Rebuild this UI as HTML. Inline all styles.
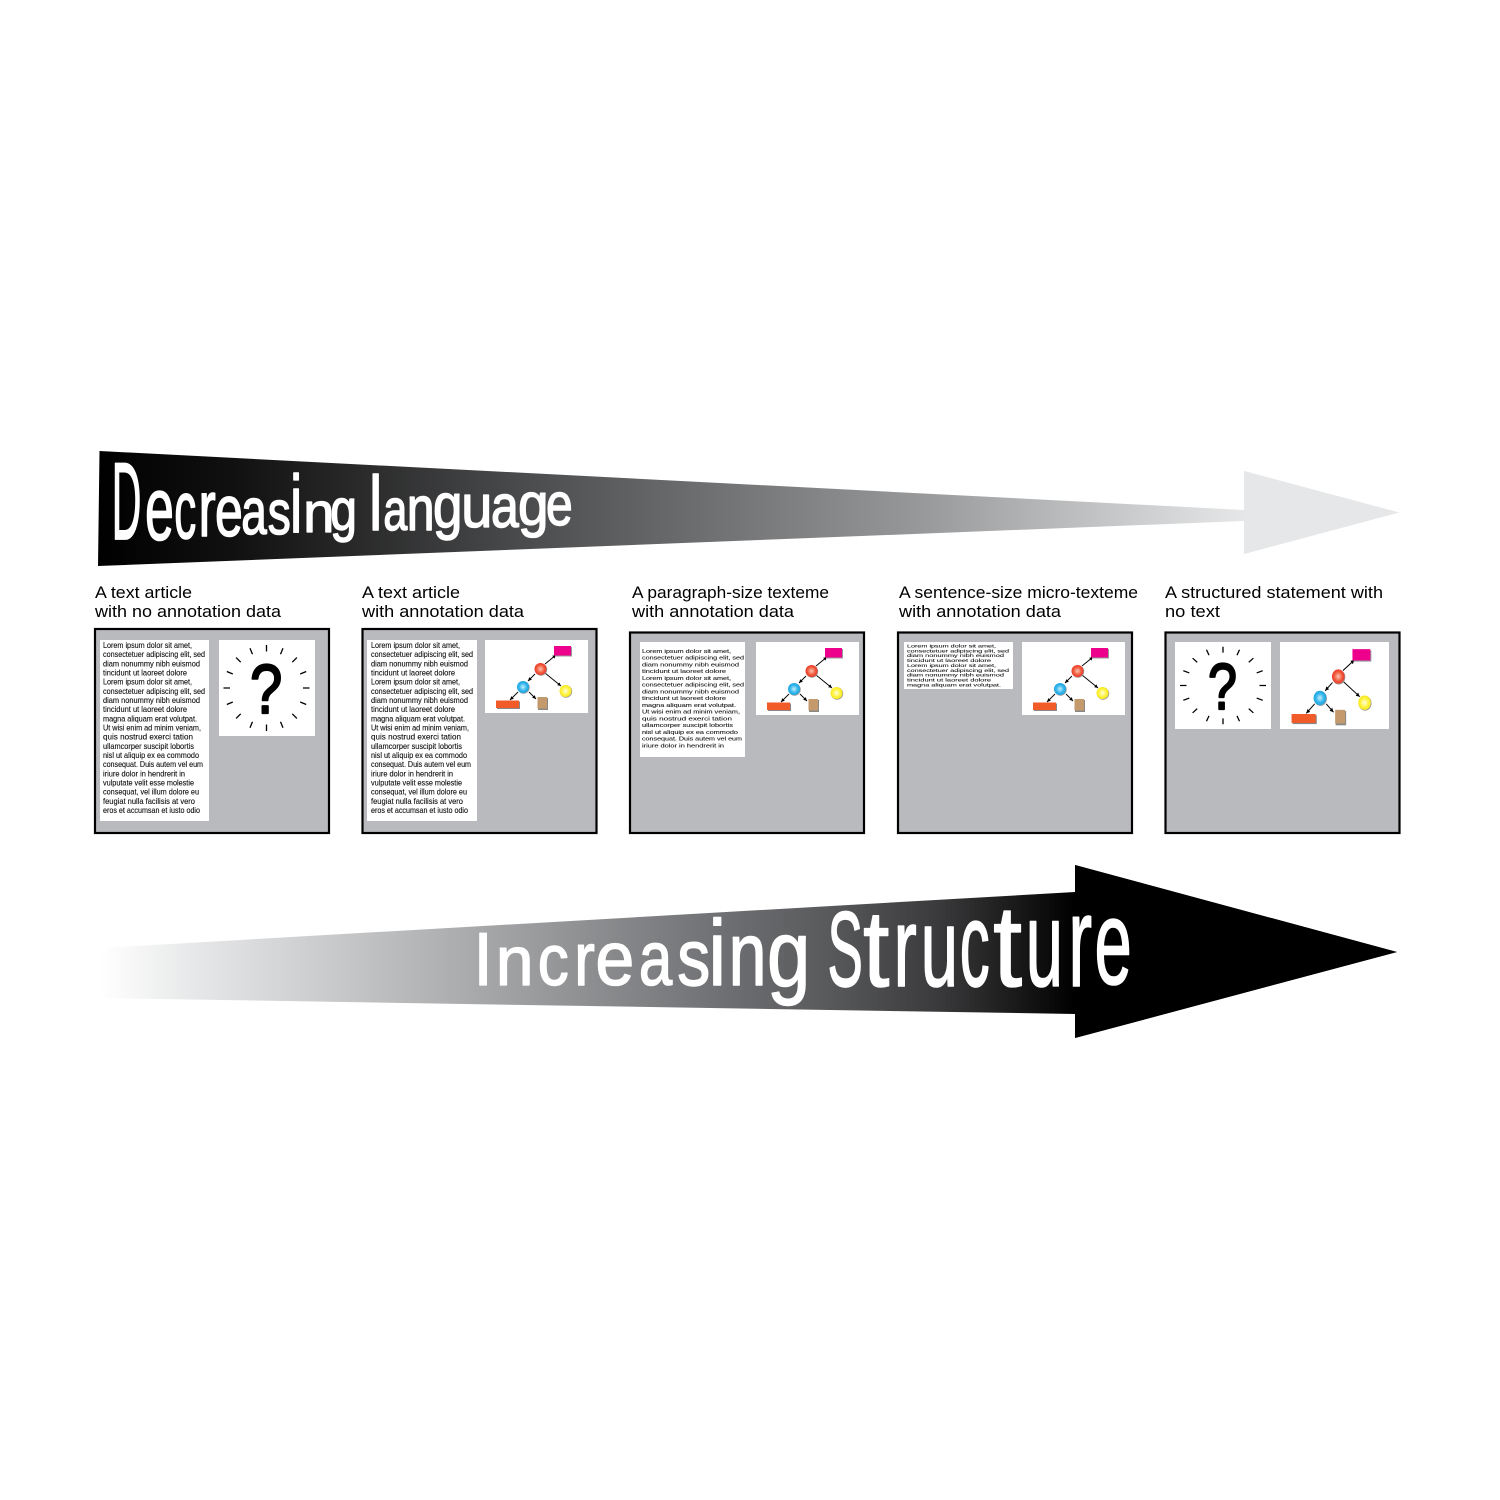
<!DOCTYPE html>
<html lang="en"><head><meta charset="utf-8"><title>Decreasing language, increasing structure</title>
<style>
html,body{margin:0;padding:0;background:#fff}
svg{display:block}
text{font-family:"Liberation Sans",sans-serif}
.h text{fill:#fff;stroke:#fff;stroke-width:1.3px;vector-effect:non-scaling-stroke;font-size:100px;stroke-linejoin:round}
.lab{font-size:16.5px;fill:#000}
.lo{font-size:7.9px;fill:#111;stroke:#111;stroke-width:.12px}
.p{fill:#b9babe;stroke:#000;stroke-width:2.2}
.q{font-size:100px;fill:#000;stroke:#000;stroke-width:2px;vector-effect:non-scaling-stroke;stroke-linejoin:round}
</style></head><body>
<svg xmlns="http://www.w3.org/2000/svg" width="1500" height="1500" viewBox="0 0 1500 1500">
<defs>
<linearGradient id="g1" gradientUnits="userSpaceOnUse" x1="99" y1="0" x2="1244" y2="0">
<stop offset="0" stop-color="#000"/><stop offset=".12" stop-color="#111"/><stop offset=".43" stop-color="#58595b"/><stop offset=".72" stop-color="#98999b"/><stop offset="1" stop-color="#e6e7e8"/></linearGradient>
<linearGradient id="g2" gradientUnits="userSpaceOnUse" x1="100" y1="0" x2="1075" y2="0">
<stop offset="0" stop-color="#fff"/><stop offset=".1" stop-color="#e6e7e8"/><stop offset=".19" stop-color="#d3d4d6"/><stop offset=".38" stop-color="#a9aaac"/><stop offset=".65" stop-color="#6c6d70"/><stop offset=".74" stop-color="#5a5b5d"/><stop offset=".86" stop-color="#3a3a3c"/><stop offset=".96" stop-color="#111"/><stop offset="1" stop-color="#000"/></linearGradient>
<radialGradient id="r" cx=".5" cy=".5" r=".55"><stop offset="0" stop-color="#fbc5b5"/><stop offset=".6" stop-color="#f0583a"/><stop offset="1" stop-color="#e8342a"/></radialGradient>
<radialGradient id="b" cx=".5" cy=".5" r=".55"><stop offset="0" stop-color="#c8eefc"/><stop offset=".6" stop-color="#2fb4ea"/><stop offset="1" stop-color="#1ea3e0"/></radialGradient>
<radialGradient id="y" cx=".5" cy=".5" r=".55"><stop offset="0" stop-color="#fffde0"/><stop offset=".6" stop-color="#fff23a"/><stop offset="1" stop-color="#f5e51a"/></radialGradient>
<marker id="ah" markerWidth="5" markerHeight="5" refX="4" refY="2" orient="auto"><path d="M0 0L4 2L0 4z" fill="#000"/></marker>
<g id="tree">
<rect x="485" y="640" width="103" height="73" fill="#fff"/>
<g stroke="#000" stroke-width=".9" fill="none">
<path d="M545 664L556 655" marker-end="url(#ah)"/><path d="M535 674L528 681" marker-end="url(#ah)"/><path d="M545 673L561 686" marker-end="url(#ah)"/><path d="M518 692L510 700" marker-end="url(#ah)"/><path d="M529 692L536 699" marker-end="url(#ah)"/>
</g>
<rect x="555" y="647" width="17" height="9.5" fill="#999"/><rect x="554" y="646" width="17" height="9.5" fill="#ec008c"/>
<circle cx="541" cy="669.5" r="6.2" fill="#999"/><circle cx="540.5" cy="669" r="6" fill="url(#r)"/>
<circle cx="523.5" cy="687.5" r="6.2" fill="#999"/><circle cx="523" cy="687" r="6" fill="url(#b)"/>
<circle cx="566" cy="691.5" r="6.2" fill="#999"/><circle cx="565.5" cy="691" r="6" fill="url(#y)"/>
<rect x="497" y="701.5" width="23" height="7.5" fill="#888"/><rect x="496" y="700.5" width="23" height="7.5" fill="#f15a29"/>
<rect x="538" y="698" width="10" height="12" fill="#888"/><rect x="537.5" y="697" width="9.5" height="11.5" fill="#c49a6c"/>
</g>
<g id="ticks" stroke="#000" stroke-width="1.3" fill="none">
<path d="M0 -36.5L0 -43M14 -33.7L16.5 -39.7M25.8 -25.8L30.4 -30.4M33.7 -14L39.7 -16.5M36.5 0L43 0M33.7 14L39.7 16.5M25.8 25.8L30.4 30.4M14 33.7L16.5 39.7M0 36.5L0 43M-14 33.7L-16.5 39.7M-25.8 25.8L-30.4 30.4M-33.7 14L-39.7 16.5M-36.5 0L-43 0M-33.7 -14L-39.7 -16.5M-25.8 -25.8L-30.4 -30.4M-14 -33.7L-16.5 -39.7"/>
</g>
</defs>

<polygon points="99.5,451 1244,510 1244,471 1399,512.5 1244,554 1244,521 98,566" fill="url(#g1)"/>
<polygon points="1244,471 1399,512.5 1244,554" fill="#e6e7e8"/>

<g class="h"><title>Decreasing language</title>
<text transform="translate(111.7,539) scale(.41,1.1)">D</text>
<text transform="translate(145,539.5) scale(.52,.9)">e</text>
<text transform="translate(174.3,538) scale(.44,.83)">c</text>
<text transform="translate(198.5,536) scale(.52,.8)">r</text>
<text transform="translate(215,536) scale(.5,.72)">e</text>
<text transform="translate(241.2,534) scale(.46,.66)">a</text>
<text transform="translate(267.7,534) scale(.46,.62)">s</text>
<text transform="translate(290,532) scale(.55,.82)">i</text>
<text transform="translate(303.3,532) scale(.56,.57)">n</text>
<text transform="translate(330.2,530) scale(.48,.58)">g</text>
<text transform="translate(369,530) scale(.6,.77)">l</text>
<text transform="translate(383.4,530) scale(.43,.58)">a</text>
<text transform="translate(406.7,530) scale(.5,.62)">n</text>
<text transform="translate(433,527) scale(.53,.62)">g</text>
<text transform="translate(461.3,527) scale(.56,.6)">u</text>
<text transform="translate(491,527) scale(.5,.6)">a</text>
<text transform="translate(518,525) scale(.55,.6)">g</text>
<text transform="translate(546,525) scale(.48,.6)">e</text>
</g>

<polygon points="100,948 1075,892 1075,865 1397,952 1075,1038 1075,1014 100,998" fill="url(#g2)"/>
<polygon points="1075,865 1397,952 1075,1038" fill="#000"/>

<g class="h"><title>Increasing Structure</title>
<text transform="translate(473.4,985) scale(.7,.75)">I</text>
<text transform="translate(495.7,985) scale(.68,.7)">n</text>
<text transform="translate(537.8,985) scale(.62,.72)">c</text>
<text transform="translate(574.2,985) scale(.62,.75)">r</text>
<text transform="translate(595.4,985) scale(.7,.76)">e</text>
<text transform="translate(638.9,985) scale(.6,.77)">a</text>
<text transform="translate(677.2,985) scale(.66,.8)">s</text>
<text transform="translate(708.4,985) scale(.8,.93)">i</text>
<text transform="translate(728.6,985) scale(.68,.9)">n</text>
<text transform="translate(767,986) scale(.78,.94)">g</text>
<text transform="translate(827.5,986) scale(.53,1.07)">S</text>
<text transform="translate(863,986) scale(.95,1.09)">t</text>
<text transform="translate(893.5,986) scale(.7,1.13)">r</text>
<text transform="translate(920.7,986) scale(.67,1.11)">u</text>
<text transform="translate(959.8,986) scale(.6,1.2)">c</text>
<text transform="translate(993,986) scale(1.05,1.16)">t</text>
<text transform="translate(1025.7,986) scale(.67,1.22)">u</text>
<text transform="translate(1068.2,986) scale(.72,1.3)">r</text>
<text transform="translate(1094.5,984) scale(.67,1.2)">e</text>
</g>

<text class="lab" x="95" y="598" textLength="97" lengthAdjust="spacingAndGlyphs">A text article</text>
<text class="lab" x="95" y="617" textLength="186" lengthAdjust="spacingAndGlyphs">with no annotation data</text>
<text class="lab" x="362" y="598" textLength="98" lengthAdjust="spacingAndGlyphs">A text article</text>
<text class="lab" x="362" y="617" textLength="162" lengthAdjust="spacingAndGlyphs">with annotation data</text>
<text class="lab" x="632" y="598" textLength="197" lengthAdjust="spacingAndGlyphs">A paragraph-size texteme</text>
<text class="lab" x="632" y="617" textLength="162" lengthAdjust="spacingAndGlyphs">with annotation data</text>
<text class="lab" x="899" y="598" textLength="239" lengthAdjust="spacingAndGlyphs">A sentence-size micro-texteme</text>
<text class="lab" x="899" y="617" textLength="162" lengthAdjust="spacingAndGlyphs">with annotation data</text>
<text class="lab" x="1165" y="598" textLength="218" lengthAdjust="spacingAndGlyphs">A structured statement with</text>
<text class="lab" x="1165" y="617" textLength="55" lengthAdjust="spacingAndGlyphs">no text</text>

<rect class="p" x="95" y="629" width="234" height="204"/>
<rect class="p" x="362.5" y="629" width="234" height="204"/>
<rect class="p" x="630" y="632.5" width="234" height="200.5"/>
<rect class="p" x="898" y="632.5" width="234" height="200.5"/>
<rect class="p" x="1165.5" y="632.5" width="234" height="200.5"/>

<!-- panel 1 -->
<rect x="100" y="640" width="109" height="181" fill="#fff"/>
<g>
<text class="lo" x="103" y="648" textLength="89" lengthAdjust="spacingAndGlyphs">Lorem ipsum dolor sit amet,</text>
<text class="lo" x="103" y="657.2" textLength="102" lengthAdjust="spacingAndGlyphs">consectetuer adipiscing elit, sed</text>
<text class="lo" x="103" y="666.3" textLength="97" lengthAdjust="spacingAndGlyphs">diam nonummy nibh euismod</text>
<text class="lo" x="103" y="675.5" textLength="84" lengthAdjust="spacingAndGlyphs">tincidunt ut laoreet dolore</text>
<text class="lo" x="103" y="684.7" textLength="89" lengthAdjust="spacingAndGlyphs">Lorem ipsum dolor sit amet,</text>
<text class="lo" x="103" y="693.9" textLength="102" lengthAdjust="spacingAndGlyphs">consectetuer adipiscing elit, sed</text>
<text class="lo" x="103" y="703" textLength="97" lengthAdjust="spacingAndGlyphs">diam nonummy nibh euismod</text>
<text class="lo" x="103" y="712.2" textLength="84" lengthAdjust="spacingAndGlyphs">tincidunt ut laoreet dolore</text>
<text class="lo" x="103" y="721.4" textLength="94" lengthAdjust="spacingAndGlyphs">magna aliquam erat volutpat.</text>
<text class="lo" x="103" y="730.5" textLength="98" lengthAdjust="spacingAndGlyphs">Ut wisi enim ad minim veniam,</text>
<text class="lo" x="103" y="739.7" textLength="90" lengthAdjust="spacingAndGlyphs">quis nostrud exerci tation</text>
<text class="lo" x="103" y="748.9" textLength="91" lengthAdjust="spacingAndGlyphs">ullamcorper suscipit lobortis</text>
<text class="lo" x="103" y="758" textLength="96" lengthAdjust="spacingAndGlyphs">nisl ut aliquip ex ea commodo</text>
<text class="lo" x="103" y="767.2" textLength="100" lengthAdjust="spacingAndGlyphs">consequat. Duis autem vel eum</text>
<text class="lo" x="103" y="776.4" textLength="82" lengthAdjust="spacingAndGlyphs">iriure dolor in hendrerit in</text>
<text class="lo" x="103" y="785.6" textLength="91" lengthAdjust="spacingAndGlyphs">vulputate velit esse molestie</text>
<text class="lo" x="103" y="794.7" textLength="96" lengthAdjust="spacingAndGlyphs">consequat, vel illum dolore eu</text>
<text class="lo" x="103" y="803.9" textLength="92" lengthAdjust="spacingAndGlyphs">feugiat nulla facilisis at vero</text>
<text class="lo" x="103" y="813" textLength="97" lengthAdjust="spacingAndGlyphs">eros et accumsan et iusto odio</text>
</g>
<rect x="219" y="640" width="96" height="96" fill="#fff"/>
<use href="#ticks" transform="translate(266.5,688)"/>
<text class="q" transform="translate(250,713) scale(.58,.7)">?</text>

<!-- panel 2 -->
<rect x="367" y="640" width="110" height="181" fill="#fff"/>
<g transform="translate(268,0)">
<text class="lo" x="103" y="648" textLength="89" lengthAdjust="spacingAndGlyphs">Lorem ipsum dolor sit amet,</text>
<text class="lo" x="103" y="657.2" textLength="102" lengthAdjust="spacingAndGlyphs">consectetuer adipiscing elit, sed</text>
<text class="lo" x="103" y="666.3" textLength="97" lengthAdjust="spacingAndGlyphs">diam nonummy nibh euismod</text>
<text class="lo" x="103" y="675.5" textLength="84" lengthAdjust="spacingAndGlyphs">tincidunt ut laoreet dolore</text>
<text class="lo" x="103" y="684.7" textLength="89" lengthAdjust="spacingAndGlyphs">Lorem ipsum dolor sit amet,</text>
<text class="lo" x="103" y="693.9" textLength="102" lengthAdjust="spacingAndGlyphs">consectetuer adipiscing elit, sed</text>
<text class="lo" x="103" y="703" textLength="97" lengthAdjust="spacingAndGlyphs">diam nonummy nibh euismod</text>
<text class="lo" x="103" y="712.2" textLength="84" lengthAdjust="spacingAndGlyphs">tincidunt ut laoreet dolore</text>
<text class="lo" x="103" y="721.4" textLength="94" lengthAdjust="spacingAndGlyphs">magna aliquam erat volutpat.</text>
<text class="lo" x="103" y="730.5" textLength="98" lengthAdjust="spacingAndGlyphs">Ut wisi enim ad minim veniam,</text>
<text class="lo" x="103" y="739.7" textLength="90" lengthAdjust="spacingAndGlyphs">quis nostrud exerci tation</text>
<text class="lo" x="103" y="748.9" textLength="91" lengthAdjust="spacingAndGlyphs">ullamcorper suscipit lobortis</text>
<text class="lo" x="103" y="758" textLength="96" lengthAdjust="spacingAndGlyphs">nisl ut aliquip ex ea commodo</text>
<text class="lo" x="103" y="767.2" textLength="100" lengthAdjust="spacingAndGlyphs">consequat. Duis autem vel eum</text>
<text class="lo" x="103" y="776.4" textLength="82" lengthAdjust="spacingAndGlyphs">iriure dolor in hendrerit in</text>
<text class="lo" x="103" y="785.6" textLength="91" lengthAdjust="spacingAndGlyphs">vulputate velit esse molestie</text>
<text class="lo" x="103" y="794.7" textLength="96" lengthAdjust="spacingAndGlyphs">consequat, vel illum dolore eu</text>
<text class="lo" x="103" y="803.9" textLength="92" lengthAdjust="spacingAndGlyphs">feugiat nulla facilisis at vero</text>
<text class="lo" x="103" y="813" textLength="97" lengthAdjust="spacingAndGlyphs">eros et accumsan et iusto odio</text>
</g>
<use href="#tree"/>

<!-- panel 3 -->
<rect x="640" y="642" width="105" height="115" fill="#fff"/>
<g transform="translate(539,176.7) scale(1,.735)">
<text class="lo" x="103" y="648" textLength="89" lengthAdjust="spacingAndGlyphs">Lorem ipsum dolor sit amet,</text>
<text class="lo" x="103" y="657.2" textLength="102" lengthAdjust="spacingAndGlyphs">consectetuer adipiscing elit, sed</text>
<text class="lo" x="103" y="666.3" textLength="97" lengthAdjust="spacingAndGlyphs">diam nonummy nibh euismod</text>
<text class="lo" x="103" y="675.5" textLength="84" lengthAdjust="spacingAndGlyphs">tincidunt ut laoreet dolore</text>
<text class="lo" x="103" y="684.7" textLength="89" lengthAdjust="spacingAndGlyphs">Lorem ipsum dolor sit amet,</text>
<text class="lo" x="103" y="693.9" textLength="102" lengthAdjust="spacingAndGlyphs">consectetuer adipiscing elit, sed</text>
<text class="lo" x="103" y="703" textLength="97" lengthAdjust="spacingAndGlyphs">diam nonummy nibh euismod</text>
<text class="lo" x="103" y="712.2" textLength="84" lengthAdjust="spacingAndGlyphs">tincidunt ut laoreet dolore</text>
<text class="lo" x="103" y="721.4" textLength="94" lengthAdjust="spacingAndGlyphs">magna aliquam erat volutpat.</text>
<text class="lo" x="103" y="730.5" textLength="98" lengthAdjust="spacingAndGlyphs">Ut wisi enim ad minim veniam,</text>
<text class="lo" x="103" y="739.7" textLength="90" lengthAdjust="spacingAndGlyphs">quis nostrud exerci tation</text>
<text class="lo" x="103" y="748.9" textLength="91" lengthAdjust="spacingAndGlyphs">ullamcorper suscipit lobortis</text>
<text class="lo" x="103" y="758" textLength="96" lengthAdjust="spacingAndGlyphs">nisl ut aliquip ex ea commodo</text>
<text class="lo" x="103" y="767.2" textLength="100" lengthAdjust="spacingAndGlyphs">consequat. Duis autem vel eum</text>
<text class="lo" x="103" y="776.4" textLength="82" lengthAdjust="spacingAndGlyphs">iriure dolor in hendrerit in</text>
</g>
<use href="#tree" transform="translate(271,2)"/>

<!-- panel 4 -->
<rect x="904" y="642" width="109" height="47" fill="#fff"/>
<g transform="translate(804,304.1) scale(1,.53)">
<text class="lo" x="103" y="648" textLength="89" lengthAdjust="spacingAndGlyphs">Lorem ipsum dolor sit amet,</text>
<text class="lo" x="103" y="657.2" textLength="102" lengthAdjust="spacingAndGlyphs">consectetuer adipiscing elit, sed</text>
<text class="lo" x="103" y="666.3" textLength="97" lengthAdjust="spacingAndGlyphs">diam nonummy nibh euismod</text>
<text class="lo" x="103" y="675.5" textLength="84" lengthAdjust="spacingAndGlyphs">tincidunt ut laoreet dolore</text>
<text class="lo" x="103" y="684.7" textLength="89" lengthAdjust="spacingAndGlyphs">Lorem ipsum dolor sit amet,</text>
<text class="lo" x="103" y="693.9" textLength="102" lengthAdjust="spacingAndGlyphs">consectetuer adipiscing elit, sed</text>
<text class="lo" x="103" y="703" textLength="97" lengthAdjust="spacingAndGlyphs">diam nonummy nibh euismod</text>
<text class="lo" x="103" y="712.2" textLength="84" lengthAdjust="spacingAndGlyphs">tincidunt ut laoreet dolore</text>
<text class="lo" x="103" y="721.4" textLength="94" lengthAdjust="spacingAndGlyphs">magna aliquam erat volutpat.</text>
</g>
<use href="#tree" transform="translate(537,2)"/>

<!-- panel 5 -->
<rect x="1175" y="642" width="96" height="87" fill="#fff"/>
<use href="#ticks" transform="translate(1223,685.5) scale(1,.9)"/>
<text class="q" transform="translate(1208,709) scale(.52,.65)">?</text>
<rect x="1280" y="642" width="109" height="87" fill="#fff"/>
<use href="#tree" transform="translate(1280,642) scale(1.05,1.19) translate(-485,-640)"/>
</svg>
</body></html>
